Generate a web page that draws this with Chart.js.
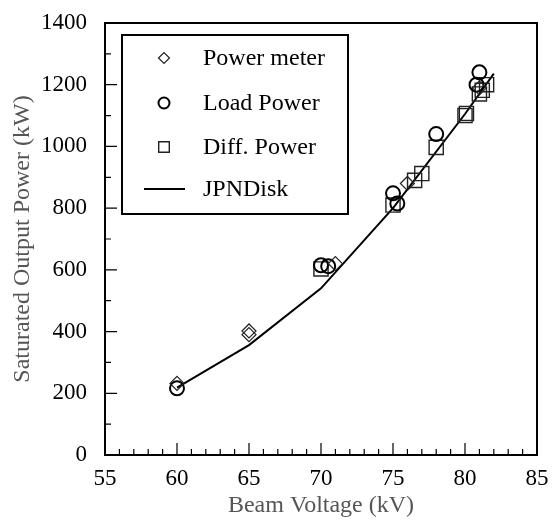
<!DOCTYPE html>
<html>
<head>
<meta charset="utf-8">
<script src="https://cdn.jsdelivr.net/npm/chart.js@4"></script>
<style>
  body { margin: 0; background: #fff; }
  #wrap { width: 552px; height: 520px; }
</style>
</head>
<body>
<div id="wrap"><canvas id="powerChart"></canvas></div>
<script>
// data
var meterX = [60, 65, 65, 71, 76, 81];
var meterY = [232, 402, 390, 620, 880, 1190];

var loadX = [60, 70, 70.5, 75, 75.3, 78, 80.8, 81];
var loadY = [216, 615, 612, 848, 815, 1040, 1200, 1240];

var diffX = [70, 75, 76.5, 77, 78, 80, 80.1, 81, 81.2, 81.5];
var diffY = [603, 810, 890, 912, 997, 1100, 1107, 1170, 1182, 1200];

var diskX = [60, 65, 70, 75, 80, 82];
var diskY = [218, 356, 540, 800, 1105, 1236];

function pts(xs, ys) {
	return xs.map(function (x, i) { return {x: x, y: ys[i]}; });
}

var FONT = "'Liberation Serif', 'DejaVu Serif', serif";

// small symbol sizes used in the legend box
var legendRadius = [5.5, 5.5, 7.5, 0];

// box, inward ticks and the legend
var frame = {
	id: 'frame',
	afterDraw: function (chart) {
		var ctx = chart.ctx;
		var a = chart.chartArea;
		var xs = chart.scales.x, ys = chart.scales.y;
		ctx.save();
		ctx.strokeStyle = '#000';
		ctx.lineWidth = 2;
		ctx.strokeRect(a.left, a.top, a.right - a.left, a.bottom - a.top);
		ctx.lineWidth = 1.2;
		ctx.beginPath();
		for (var v = 55; v <= 85; v++) {
			var px = xs.getPixelForValue(v);
			var len = (v % 5 === 0) ? 12 : 6;
			ctx.moveTo(px, a.bottom);
			ctx.lineTo(px, a.bottom - len);
		}
		for (var w = 0; w <= 1400; w += 100) {
			var py = ys.getPixelForValue(w);
			var l2 = (w % 200 === 0) ? 12 : 6;
			ctx.moveTo(a.left, py);
			ctx.lineTo(a.left + l2, py);
		}
		ctx.stroke();

		// legend
		ctx.lineWidth = 2;
		ctx.fillStyle = '#fff';
		ctx.fillRect(122, 35, 226, 179);
		ctx.strokeRect(122, 35, 226, 179);
		var rows = [58, 103, 147, 189];
		ctx.font = '24px ' + FONT;
		ctx.textBaseline = 'middle';
		chart.data.datasets.forEach(function (ds, i) {
			var y = rows[i];
			ctx.strokeStyle = ds.borderColor;
			ctx.lineWidth = ds.borderWidth;
			if (ds.showLine) {
				ctx.beginPath();
				ctx.moveTo(144, y);
				ctx.lineTo(185, y);
				ctx.stroke();
			} else {
				ctx.fillStyle = 'rgba(0,0,0,0)';
				Chart.helpers.drawPoint(ctx, {
					pointStyle: ds.pointStyle,
					radius: legendRadius[i],
					rotation: 0,
					borderWidth: ds.borderWidth
				}, 164, y);
			}
			ctx.fillStyle = '#000';
			ctx.fillText(ds.label, 203, y + 1);
		});
		ctx.restore();
	}
};

new Chart('powerChart', {
	type: 'scatter',
	data: {
		datasets: [{
			label: 'Power meter',
			data: pts(meterX, meterY),
			pointStyle: 'rectRot',
			pointRadius: 7,
			borderColor: '#222',
			backgroundColor: 'rgba(0,0,0,0)',
			borderWidth: 1.2
		}, {
			label: 'Load Power',
			data: pts(loadX, loadY),
			pointStyle: 'circle',
			pointRadius: 7,
			borderColor: '#000',
			backgroundColor: 'rgba(0,0,0,0)',
			borderWidth: 2
		}, {
			label: 'Diff. Power',
			data: pts(diffX, diffY),
			pointStyle: 'rect',
			pointRadius: 10,
			borderColor: '#222',
			backgroundColor: 'rgba(0,0,0,0)',
			borderWidth: 1.4
		}, {
			label: 'JPNDisk',
			data: pts(diskX, diskY),
			showLine: true,
			pointRadius: 0,
			borderColor: '#000',
			borderWidth: 2,
			tension: 0
		}]
	},
	options: {
		responsive: true,
		maintainAspectRatio: false,
		animation: false,
		layout: {padding: {left: 0, right: 15, top: 23, bottom: 0}},
		plugins: {
			legend: {display: false},
			tooltip: {enabled: false}
		},
		scales: {
			x: {
				type: 'linear',
				min: 55, max: 85,
				grid: {display: false, drawTicks: false},
				border: {display: false},
				ticks: {stepSize: 5, color: '#000', padding: 10, font: {family: FONT, size: 23},
					callback: function (v) { return String(v); }},
				title: {display: true, text: 'Beam Voltage (kV)', color: '#555', padding: {top: 0, bottom: 0}, font: {family: FONT, size: 24}},
				afterFit: function (s) { s.height = 65; s.paddingLeft = 0; s.paddingRight = 0; }
			},
			y: {
				min: 0, max: 1400,
				grid: {display: false, drawTicks: false},
				border: {display: false},
				ticks: {stepSize: 200, color: '#000', padding: 18, font: {family: FONT, size: 23},
					callback: function (v) { return String(v); }},
				title: {display: true, text: 'Saturated Output Power (kW)', color: '#555', padding: {top: 8, bottom: 0}, font: {family: FONT, size: 24}},
				afterFit: function (s) { s.width = 105; s.paddingTop = 0; s.paddingBottom = 0; }
			}
		}
	},
	plugins: [frame]
});
</script>
</body>
</html>
